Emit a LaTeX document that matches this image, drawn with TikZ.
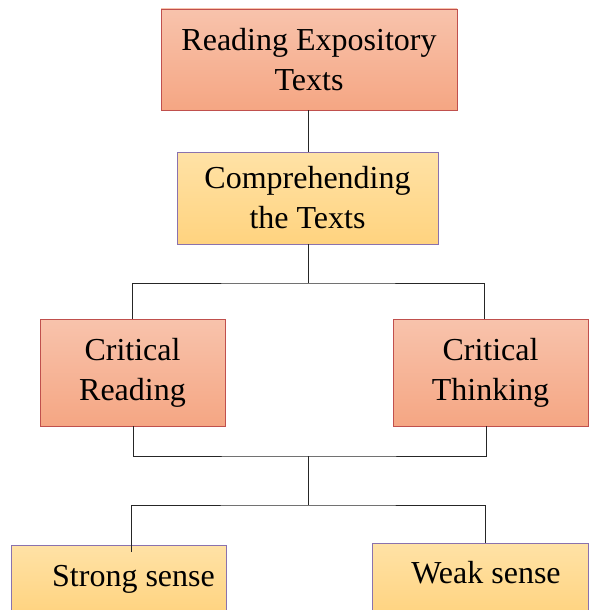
\documentclass[tikz,border=0pt]{standalone}
\usepackage{fontspec}
\setmainfont{Liberation Serif}
\definecolor{salmontop}{HTML}{F8C3AC}
\definecolor{salmonbot}{HTML}{F5A683}
\definecolor{salmonline}{HTML}{C0504D}
\definecolor{yellowtop}{HTML}{FFE2A6}
\definecolor{yellowbot}{HTML}{FFD37F}
\definecolor{purpleline}{HTML}{8A72AE}
\tikzset{
  bigtext/.style={font=\fontsize{32}{40}\selectfont},
  redbox/.style={draw=salmonline, line width=0.9pt, top color=salmontop, bottom color=salmonbot,
    align=center, inner sep=0pt, bigtext},
  yellowbox/.style={draw=purpleline, line width=0.9pt, top color=yellowtop, bottom color=yellowbot,
    align=center, inner sep=0pt, bigtext},
  link/.style={draw=black!85, line width=0.9pt}
}
\begin{document}
\begin{tikzpicture}[x=1pt, y=-1pt]
    \useasboundingbox (0,0) rectangle (590,610);
    \clip (0,0) rectangle (590,610);

    % Top box
    \node[redbox, minimum width=296, minimum height=101] (top) at (309,59.5) {Reading Expository\\Texts};
    % Second box
    \node[yellowbox, minimum width=261, minimum height=92] (comp) at (307.5,198) {Comprehending\\the Texts};

    % Critical boxes
    \node[redbox, minimum width=185, minimum height=107] (critread) at (132.5,372.5) {Critical\\Reading};
    \node[redbox, minimum width=195, minimum height=107] (critthink) at (490.5,372.5) {Critical\\Thinking};

    % Bottom boxes (cut by the lower edge), text set off to the right
    \node[yellowbox, minimum width=215, minimum height=70] (strong) at (118.5,580) {};
    \node[bigtext, anchor=base] (strongtext) at (133.5,586) {Strong sense};
    \node[yellowbox, minimum width=216, minimum height=74] (weak) at (480,580) {};
    \node[bigtext, anchor=base] (weaktext) at (486,583) {Weak sense};

    % Bus points
    \coordinate (bus1) at (308,283);
    \coordinate (bus2) at (308,456);
    \coordinate (bus3) at (308,505);

    % Connectors
    \draw[link] (top.south -| bus1) -- (comp.north -| bus1);
    \draw[link] (comp.south -| bus1) -- (bus1);
    \draw[link] ([xshift=-0.5]critread.north) |- (bus1) -| ([xshift=-6.5]critthink.north);
    \draw[link] ([xshift=0.5]critread.south) |- (bus2) -| ([xshift=-4]critthink.south);
    \draw[link] (bus2) -- (bus3);
    \draw[link] (131,552) |- (bus3) -| ([xshift=5]weak.north);
\end{tikzpicture}
\end{document}
